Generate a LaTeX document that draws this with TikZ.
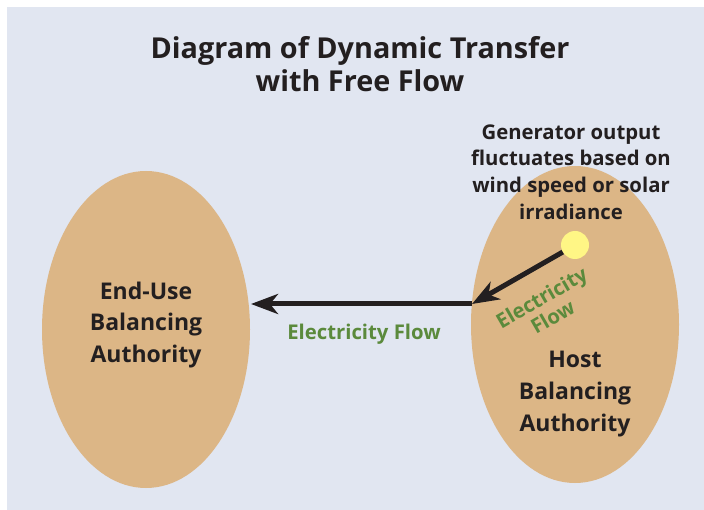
\documentclass[tikz,border=0pt]{standalone}
\usepackage{fontspec}
\setmainfont{Open Sans}
\usetikzlibrary{arrows.meta,shapes.geometric}

\definecolor{panel}{HTML}{E1E6F1}
\definecolor{authority}{HTML}{DCB686}
\definecolor{ink}{HTML}{231F20}
\definecolor{flowgreen}{HTML}{5B8A3C}
\definecolor{sun}{HTML}{FFF685}

\tikzset{
  area/.style={ellipse, fill=authority, draw=none, inner sep=0pt,
               minimum width=208pt, minimum height=317pt},
  heading/.style={font=\bfseries\fontsize{28.8}{33}\selectfont, text=ink, align=center},
  areatext/.style={font=\bfseries\fontsize{23}{31.6}\selectfont, text=ink, align=center},
  note/.style={font=\bfseries\fontsize{20.3}{26.7}\selectfont, text=ink, align=center},
  flowtext/.style={font=\bfseries\fontsize{20.3}{22}\selectfont, text=flowgreen, align=center},
  flowline/.style={draw=ink, line width=5pt,
                   -{Stealth[length=27pt, width=20pt, inset=8pt]}},
  source/.style={circle, fill=sun, draw=none, minimum size=28pt, inner sep=0pt}
}

\begin{document}
\begin{tikzpicture}[x=1pt,y=-1pt]
  \useasboundingbox (0,0) rectangle (704,510);
  % background panel
  \fill[panel] (7,7) rectangle (704,510);

  % balancing authorities
  \node[area] (enduse) at (146,329.5) {};
  \node[area] (host) at (575,324.5) {};

  \node[heading] (title) at (360,64) {Diagram of Dynamic Transfer\\with Free Flow};
  \node[areatext] (endlabel) at (146,325) {End-Use\\Balancing\\Authority};
  \node[areatext] (hostlabel) at (575,394) {Host\\Balancing\\Authority};
  \node[note] (gennote) at (571,172) {Generator output\\fluctuates based on\\wind speed or solar\\irradiance};

  % generator and the flows it feeds
  \node[source] (gen) at (575,245) {};
  \coordinate (tie) at (472,304);
  \draw[flowline] (gen) -- (tie);
  \draw[flowline] (tie) -- (251,304) coordinate (endin);

  \node[flowtext] (mainflow) at (364,334) {Electricity Flow};
  \node[flowtext, rotate=30] (localflow) at (547,307) {Electricity\\Flow};
\end{tikzpicture}
\end{document}
